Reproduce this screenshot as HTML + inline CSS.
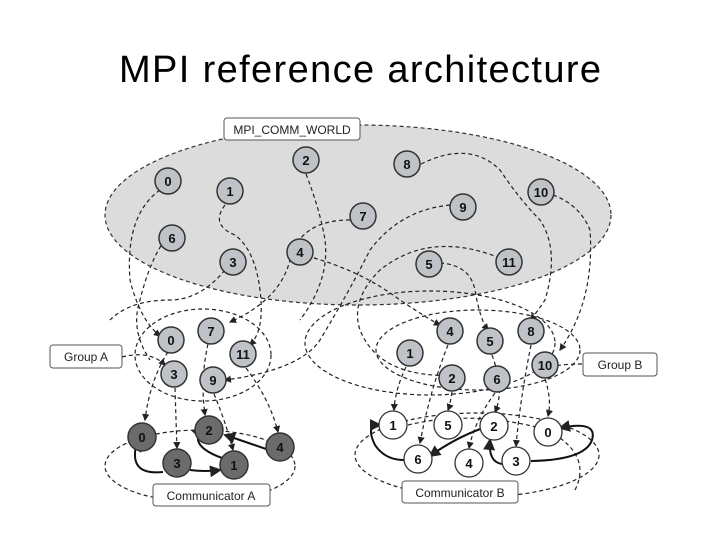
<!DOCTYPE html>
<html><head><meta charset="utf-8"><style>
html,body{margin:0;padding:0;background:#fff;width:720px;height:540px;overflow:hidden}
svg{display:block}
.t{font-family:"Liberation Sans",sans-serif}
</style></head><body>
<svg width="720" height="540" viewBox="0 0 720 540" xmlns="http://www.w3.org/2000/svg">
<defs>
<marker id="a" markerWidth="6" markerHeight="6" refX="5" refY="3" orient="auto"><path d="M0,0 L6,3 L0,6 z" fill="#222"/></marker>
</defs>
<text x="360" y="82" text-anchor="middle" class="t" font-size="38" textLength="482" fill="#000">MPI reference architecture</text>

<!-- world ellipse -->
<ellipse cx="358" cy="215" rx="253" ry="90" fill="#dcdcdc" stroke="#333" stroke-width="1.2" stroke-dasharray="4,3"/>

<g fill="none" stroke="#222" stroke-width="1.2" stroke-dasharray="4,3">
<!-- group/comm ellipses -->
<ellipse cx="203" cy="355" rx="68" ry="46"/>
<ellipse cx="478" cy="350" rx="102" ry="40"/>
<ellipse cx="430" cy="343" rx="125" ry="52"/>
<ellipse cx="200" cy="466" rx="95" ry="36"/>
<ellipse cx="477" cy="455" rx="122" ry="42"/>
<path d="M122,357 Q150,350 165,365" marker-end="url(#a)"/>
<path d="M582,364 Q565,364 555,366"/>
<!-- world to groups -->
<path d="M160,190 Q125,215 130,280 Q140,320 160,336" marker-end="url(#a)"/>
<path d="M225,205 Q210,225 235,235 Q255,250 260,290 Q265,330 250,345" marker-end="url(#a)"/>
<path d="M306,174 Q320,210 325,240 Q330,280 300,320" />
<path d="M350,220 Q300,220 290,260 Q280,300 230,322" marker-end="url(#a)"/>
<path d="M307,256 Q360,270 400,300 Q430,320 440,325" marker-end="url(#a)"/>
<path d="M450,205 Q400,210 370,250 Q350,290 320,340 Q300,370 225,380" marker-end="url(#a)"/>
<path d="M421,164 Q470,140 500,170 Q520,200 540,220 Q560,250 545,300 Q535,315 530,320" marker-end="url(#a)"/>
<path d="M553,195 Q580,205 590,230 Q595,300 560,350" marker-end="url(#a)"/>
<path d="M500,258 Q430,230 380,270 Q350,300 360,330 Q380,380 460,375" marker-end="url(#a)"/>
<path d="M440,263 Q470,265 475,290 Q480,320 488,330" marker-end="url(#a)"/>
<path d="M165,240 Q150,260 140,300 Q130,330 150,360"/>
<path d="M225,270 Q200,300 170,300 Q130,300 110,320"/>
<!-- groups to comms -->
<path d="M168,352 Q150,380 145,420" marker-end="url(#a)"/>
<path d="M175,388 Q176,420 177,448" marker-end="url(#a)"/>
<path d="M208,344 Q200,380 205,415" marker-end="url(#a)"/>
<path d="M214,394 Q225,420 233,450" marker-end="url(#a)"/>
<path d="M246,368 Q270,400 278,432" marker-end="url(#a)"/>
<path d="M406,367 Q395,390 394,410" marker-end="url(#a)"/>
<path d="M448,345 Q430,390 420,443" marker-end="url(#a)"/>
<path d="M452,392 Q450,405 448,410" marker-end="url(#a)"/>
<path d="M492,355 Q505,390 495,412" marker-end="url(#a)"/>
<path d="M495,393 Q475,420 469,448" marker-end="url(#a)"/>
<path d="M531,345 Q520,400 516,446" marker-end="url(#a)"/>
<path d="M545,379 Q552,400 548,416" marker-end="url(#a)"/>
<path d="M408,425 Q470,410 540,428"/>
<path d="M560,438 Q590,460 575,490"/>
</g>

<!-- solid thick connectors -->
<g fill="none" stroke="#111" stroke-width="2">
<path d="M163,472 Q135,475 135,455 Q135,440 140,451" marker-end="url(#a)"/>
<path d="M190,470 Q205,472 220,470" marker-end="url(#a)"/>
<path d="M222,458 Q200,450 198,440 Q198,432 200,438" marker-end="url(#a)"/>
<path d="M266,449 Q240,440 225,435" marker-end="url(#a)"/>
<path d="M404,460 Q385,460 375,445 Q365,425 380,425" marker-end="url(#a)"/>
<path d="M483,428 Q455,438 430,456" marker-end="url(#a)"/>
<path d="M502,464 Q488,462 490,440" marker-end="url(#a)"/>
<path d="M531,461 Q585,460 592,440 Q598,420 560,428" marker-end="url(#a)"/>
</g>

<!-- world nodes -->
<g stroke="#333" stroke-width="1.5" fill="#bfc3c8">
<circle cx="168" cy="181" r="13"/><circle cx="230" cy="191" r="13"/><circle cx="306" cy="160" r="13"/>
<circle cx="172" cy="238" r="13"/><circle cx="233" cy="262" r="13"/><circle cx="300" cy="252" r="13"/>
<circle cx="363" cy="216" r="13"/><circle cx="407" cy="164" r="13"/><circle cx="463" cy="207" r="13"/>
<circle cx="541" cy="192" r="13"/><circle cx="429" cy="264" r="13"/><circle cx="509" cy="262" r="13"/>
<!-- group nodes -->
<circle cx="171" cy="340" r="13"/><circle cx="211" cy="331" r="13"/><circle cx="243" cy="354" r="13"/>
<circle cx="174" cy="374" r="13"/><circle cx="213" cy="380" r="13"/>
<circle cx="410" cy="353" r="13"/><circle cx="450" cy="331" r="13"/><circle cx="490" cy="341" r="13"/>
<circle cx="531" cy="331" r="13"/><circle cx="545" cy="365" r="13"/><circle cx="452" cy="378" r="13"/><circle cx="497" cy="379" r="13"/>
</g>
<g stroke="#333" stroke-width="1.5" fill="#6b6b6b">
<circle cx="142" cy="437" r="14"/><circle cx="209" cy="430" r="14"/><circle cx="280" cy="447" r="14"/>
<circle cx="177" cy="463" r="14"/><circle cx="234" cy="465" r="14"/>
</g>
<g stroke="#333" stroke-width="1.3" fill="#fff">
<circle cx="393" cy="425" r="14"/><circle cx="448" cy="425" r="14"/><circle cx="494" cy="426" r="14"/>
<circle cx="548" cy="432" r="14"/><circle cx="418" cy="459" r="14"/><circle cx="469" cy="463" r="14"/><circle cx="516" cy="461" r="14"/>
</g>
<g class="t" font-size="13" font-weight="bold" text-anchor="middle" fill="#111">
<text x="168" y="186">0</text><text x="230" y="196">1</text><text x="306" y="165">2</text>
<text x="172" y="243">6</text><text x="233" y="267">3</text><text x="300" y="257">4</text>
<text x="363" y="221">7</text><text x="407" y="169">8</text><text x="463" y="212">9</text>
<text x="541" y="197">10</text><text x="429" y="269">5</text><text x="509" y="267">11</text>
<text x="171" y="345">0</text><text x="211" y="336">7</text><text x="243" y="359">11</text>
<text x="174" y="379">3</text><text x="213" y="385">9</text>
<text x="410" y="358">1</text><text x="450" y="336">4</text><text x="490" y="346">5</text>
<text x="531" y="336">8</text><text x="545" y="370">10</text><text x="452" y="383">2</text><text x="497" y="384">6</text>
<text x="142" y="442">0</text><text x="209" y="435">2</text><text x="280" y="452">4</text>
<text x="177" y="468">3</text><text x="234" y="470">1</text>
<text x="393" y="430">1</text><text x="448" y="430">5</text><text x="494" y="431">2</text>
<text x="548" y="437">0</text><text x="418" y="464">6</text><text x="469" y="468">4</text><text x="516" y="466">3</text>
</g>

<!-- labels -->
<g stroke="#555" stroke-width="1" fill="#fff">
<rect x="224" y="118" width="136" height="22" rx="3"/>
<rect x="50" y="345" width="72" height="23" rx="3"/>
<rect x="583" y="353" width="74" height="23" rx="3"/>
<rect x="153" y="484" width="117" height="22" rx="3"/>
<rect x="402" y="481" width="116" height="22" rx="3"/>
</g>
<g class="t" font-size="12" text-anchor="middle" fill="#222">
<text x="292" y="134">MPI_COMM_WORLD</text>
<text x="86" y="361">Group A</text>
<text x="620" y="369">Group B</text>
<text x="211" y="500">Communicator A</text>
<text x="460" y="497">Communicator B</text>
</g>
</svg>
</body></html>
